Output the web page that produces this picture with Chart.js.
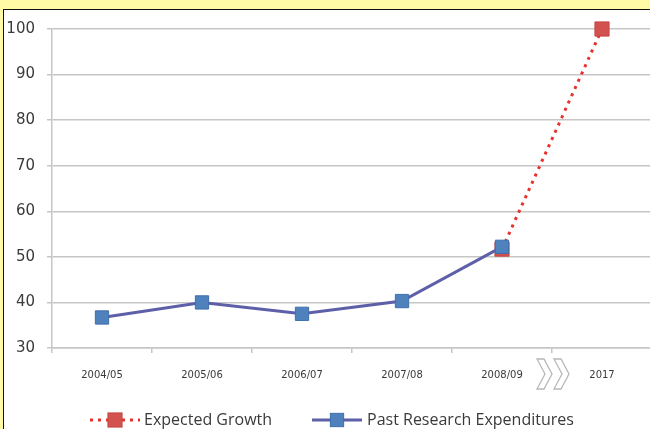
<!DOCTYPE html>
<html><head><meta charset="utf-8">
<script src="https://cdn.jsdelivr.net/npm/chart.js@4"></script>
<style>
html,body{margin:0;padding:0;width:650px;height:429px;overflow:hidden;background:#fefaa6;}
#panel{position:absolute;left:3px;top:9px;width:700px;height:500px;background:#fff;border-left:1.5px solid #111;border-top:1.5px solid #111;}
#wrap{position:absolute;left:0;top:0;width:700px;height:429px;}
</style></head><body>
<div id="panel"></div>
<div id="wrap"><canvas id="c" width="700" height="429" style="width:700px;height:429px"></canvas></div>
<script>
const categories = ['2004/05','2005/06','2006/07','2007/08','2008/09','2017'];
const pastExpenditures = [36.7, 40.0, 37.5, 40.3, 52.2, null];
const expectedGrowth = [null, null, null, null, 51.7, 100];
const yTicks = [30, 40, 50, 60, 70, 80, 90, 100];
const seriesNames = ['Expected Growth', 'Past Research Expenditures'];

const GRID = '#c6c6c6';

const extras = {
  id: 'extras',
  afterDraw(chart) {
    const ctx = chart.ctx;
    const x = chart.scales.x;
    // chevrons between last two categories
    const cx = x.getPixelForValue(4.5);
    const top = 359, bot = 389, mid = (top + bot) / 2;
    ctx.save();
    ctx.strokeStyle = '#b8b8b8';
    ctx.lineWidth = 1.3;
    ctx.lineJoin = 'miter';
    [cx - 15, cx + 2].forEach(x0 => {
      const w = 15, t = 7;
      ctx.beginPath();
      ctx.moveTo(x0, top);
      ctx.lineTo(x0 + t, top);
      ctx.lineTo(x0 + w, mid);
      ctx.lineTo(x0 + t, bot);
      ctx.lineTo(x0, bot);
      ctx.lineTo(x0 + w - t, mid);
      ctx.closePath();
      ctx.stroke();
    });
    ctx.restore();

    // legend
    const ds = chart.data.datasets;
    const y = 420;
    const items = [{lx: 90, tx: 144}, {lx: 312, tx: 367}];
    ctx.save();
    ctx.font = '16px "Open Sans"';
    ctx.textBaseline = 'middle';
    ds.forEach((d, i) => {
      const it = items[i];
      ctx.strokeStyle = d.borderColor;
      ctx.lineWidth = d.borderWidth;
      ctx.setLineDash(d.borderDash || []);
      ctx.beginPath();
      ctx.moveTo(it.lx, y);
      ctx.lineTo(it.lx + 50, y);
      ctx.stroke();
      ctx.setLineDash([]);
      const s = d.pointRadius * Math.SQRT1_2;
      ctx.fillStyle = d.pointBackgroundColor;
      ctx.fillRect(it.lx + 25 - s, y - s, 2 * s, 2 * s);
      ctx.strokeStyle = d.pointBorderColor;
      ctx.lineWidth = 1;
      ctx.strokeRect(it.lx + 25 - s, y - s, 2 * s, 2 * s);
      ctx.fillStyle = '#3a3a3a';
      ctx.fillText(d.label, it.tx, y);
    });
    ctx.restore();
  }
};

new Chart(document.getElementById('c'), {
  type: 'line',
  data: {
    labels: categories,
    datasets: [
      {
        label: seriesNames[0],
        data: expectedGrowth,
        borderColor: '#e8302c',
        borderWidth: 3,
        borderDash: [3, 5],
        pointStyle: 'rect',
        pointRadius: 10,
        pointBackgroundColor: '#d25250',
        pointBorderColor: '#c84444',
        pointBorderWidth: 1,
        spanGaps: false,
        clip: false,
        order: 2
      },
      {
        label: seriesNames[1],
        data: pastExpenditures,
        borderColor: '#5d5fa8',
        borderWidth: 3,
        pointStyle: 'rect',
        pointRadius: 9.4,
        pointBackgroundColor: '#4f81bd',
        pointBorderColor: '#3f6fae',
        pointBorderWidth: 1,
        clip: false,
        order: 1
      }
    ]
  },
  options: {
    responsive: false,
    animation: false,
    devicePixelRatio: 1,
    layout: { padding: { left: 0, right: 48, top: 29, bottom: 18 } },
    plugins: { legend: { display: false }, tooltip: { enabled: false } },
    scales: {
      x: {
        offset: true,
        afterFit(s) { s.height = 63; },
        grid: { offset: true, drawOnChartArea: false, drawTicks: true, tickLength: 5, color: GRID, lineWidth: 1.5 },
        border: { color: GRID, width: 1.5 },
        ticks: { font: { family: 'DejaVu Sans', size: 10 }, color: '#3a3a3a', padding: 16, maxRotation: 0, autoSkip: false }
      },
      y: {
        min: 30, max: 100,
        afterFit(s) { s.width = 52; },
        afterBuildTicks(s) { s.ticks = yTicks.map(v => ({ value: v })); },
        grid: { color: GRID, lineWidth: 1.5, tickLength: 5 },
        border: { color: GRID, width: 1.5 },
        ticks: { font: { family: 'DejaVu Sans', size: 15 }, color: '#3a3a3a', padding: 12 }
      }
    }
  },
  plugins: [extras]
});
</script>
</body></html>
